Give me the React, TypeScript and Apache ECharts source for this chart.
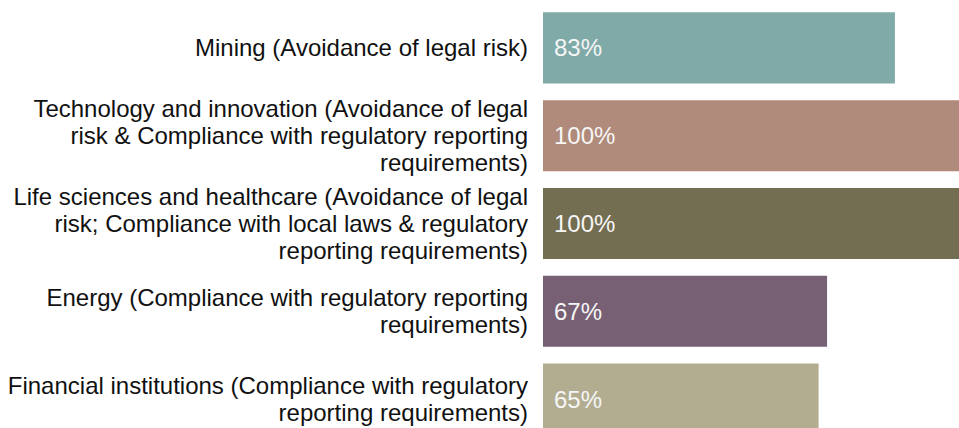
import React, { useEffect, useRef } from "react";
import * as echarts from "echarts";

const categories = [
  "Mining (Avoidance of legal risk)",
  "Technology and innovation (Avoidance of legal\nrisk & Compliance with regulatory reporting\nrequirements)",
  "Life sciences and healthcare (Avoidance of legal\nrisk; Compliance with local laws & regulatory\nreporting requirements)",
  "Energy (Compliance with regulatory reporting\nrequirements)",
  "Financial institutions (Compliance with regulatory\nreporting requirements)",
];
const values = [83, 100, 100, 67, 65];
const colors = ["#7faaa8", "#b08a7a", "#736d51", "#776074", "#b2ad90"];

export default function App() {
  const ref = useRef<HTMLDivElement>(null);
  useEffect(() => {
    if (!ref.current) return;
    const chart = echarts.init(ref.current, undefined, { renderer: "svg" });
    const font = "'Liberation Sans', Arial, Helvetica, sans-serif";
    chart.setOption({
      animation: false,
      grid: {
        left: 543,
        top: 4,
        width: 424,
        height: 439,
        containLabel: false,
        outerBoundsMode: "none",
      },
      xAxis: {
        type: "value",
        min: 0,
        max: 100,
        show: false,
        splitLine: { show: false },
      },
      yAxis: {
        type: "category",
        inverse: true,
        data: categories,
        axisLine: { show: false },
        axisTick: { show: false },
        splitLine: { show: false },
        axisLabel: {
          fontSize: 24,
          lineHeight: 27,
          color: "#111111",
          fontFamily: font,
          margin: 15,
          align: "right",
        },
      },
      series: [
        {
          type: "bar",
          barCategoryGap: "19%",
          data: values.map((v, i) => ({
            value: v,
            itemStyle: { color: colors[i] },
          })),
          label: {
            show: true,
            position: "insideLeft",
            distance: 11,
            formatter: "{c}%",
            color: "#f6f6f6",
            fontSize: 24,
            fontFamily: font,
          },
        },
      ],
    });
    return () => chart.dispose();
  }, []);
  return (
    <div
      ref={ref}
      style={{
        position: "absolute",
        left: 0,
        top: 0,
        width: 959,
        height: 428,
        overflow: "hidden",
        background: "#ffffff",
      }}
    />
  );
}
